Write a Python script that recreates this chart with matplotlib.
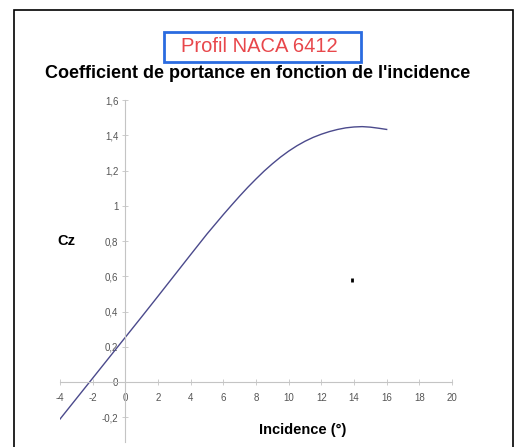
import matplotlib

matplotlib.use("Agg")

import matplotlib.pyplot as plt
from matplotlib.patches import Rectangle

plt.rcParams["font.family"] = ["Liberation Sans", "DejaVu Sans"]
plt.rcParams["axes.unicode_minus"] = False

# lift curve (incidence in degrees, Cz)
incidence = [-4, -3, -2, -1, 0, 1, 2, 3, 4, 5, 5.5, 6, 6.5, 7, 7.5, 8, 8.5, 9,
             9.5, 10, 10.5, 11, 11.5, 12, 12.5, 13, 13.5, 14, 14.5, 15, 15.5, 16]
cz = [-0.21, -0.094, 0.022, 0.138, 0.254, 0.37, 0.487, 0.605, 0.723, 0.84, 0.895,
      0.95, 1.003, 1.055, 1.105, 1.152, 1.197, 1.238, 1.276, 1.31, 1.34, 1.366,
      1.388, 1.406, 1.421, 1.433, 1.442, 1.447, 1.449, 1.446, 1.44, 1.433]

# stray point visible on the chart
stray_x = [13.9]
stray_y = [0.577]

x_ticks = list(range(-4, 21, 2))
y_ticks = [-0.2, 0, 0.2, 0.4, 0.6, 0.8, 1.0, 1.2, 1.4, 1.6]
y_tick_labels = ["-0,2", "0", "0,2", "0,4", "0,6", "0,8", "1", "1,2", "1,4", "1,6"]

W, H = 514, 447
fig = plt.figure(figsize=(W / 100, H / 100), dpi=100)

# outer black frame
fig.patches.append(Rectangle((14 / W, -0.1), (512.5 - 14) / W, 1.1 - 10 / H,
                             transform=fig.transFigure, fill=False,
                             edgecolor="black", linewidth=1.2))

ax = fig.add_axes([60 / W, 1 - 442 / H, 392 / W, (442 - 100) / H])
ax.plot(incidence, cz, color="#4b4a8c", linewidth=1.0)
ax.plot(stray_x, stray_y, linestyle="none", marker="|", markersize=3,
        markeredgewidth=2, color="black")

ax.set_xlim(-4, 20)
ax.set_ylim(-0.34, 1.6)
for side in ("top", "right"):
    ax.spines[side].set_visible(False)
ax.spines["left"].set_position(("data", 0))
ax.spines["bottom"].set_position(("data", 0))
for side in ("left", "bottom"):
    ax.spines[side].set_color("#c4c4c4")
    ax.spines[side].set_linewidth(0.8)

ax.set_xticks(x_ticks)
ax.set_yticks(y_ticks)
ax.set_yticklabels(y_tick_labels)
ax.tick_params(axis="both", direction="inout", length=4, width=0.6,
               color="#c4c4c4", labelsize=7, labelcolor="#555555")
ax.tick_params(axis="x", pad=6)
ax.tick_params(axis="y", pad=3)

fig.text(66 / W, 1 - 241 / H, "Cz", ha="center", va="center",
         fontsize=10.5, fontweight="bold")
fig.text(303 / W, 1 - 430 / H, "Incidence (°)", ha="center", va="center",
         fontsize=10.5, fontweight="bold")
fig.text(258 / W, 1 - 73 / H, "Coefficient de portance en fonction de l'incidence",
         ha="center", va="center", fontsize=13, fontweight="bold")

# boxed header
fig.patches.append(Rectangle((164 / W, 1 - 62 / H), (361 - 164) / W, 30 / H,
                             transform=fig.transFigure, fill=False,
                             edgecolor="#2a6be0", linewidth=2))
fig.text(259 / W, 1 - 47 / H, "Profil NACA 6412", ha="center", va="center",
         fontsize=14.5, color="#e8474b")

fig.savefig("out.png", dpi=100)
